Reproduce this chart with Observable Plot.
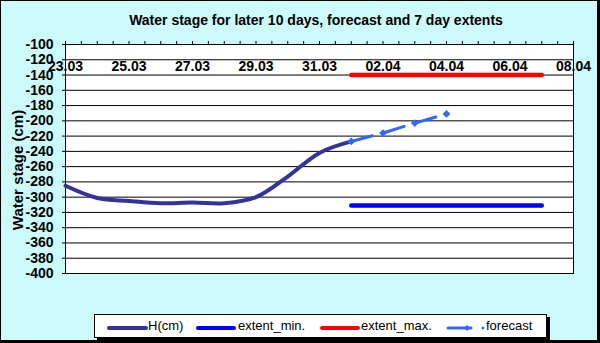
<!DOCTYPE html>
<html>
<head>
<meta charset="utf-8">
<script src="https://cdn.jsdelivr.net/npm/d3@7"></script>
<script src="https://cdn.jsdelivr.net/npm/@observablehq/plot@0.6"></script>
<style>
  html, body { margin: 0; padding: 0; background: #fff; }
  #chart { position: relative; width: 600px; height: 343px; background: #000; font-family: Arial, "Liberation Sans", sans-serif; overflow: hidden; }
  #panel { position: absolute; left: 0; top: 0; width: 596px; height: 339px; background: #cdfafa; border: 1px solid #000; }
  #plot { position: absolute; left: 0; top: 0; }
  #title { position: absolute; left: 0; width: 632px; top: 12px; line-height: 16px; text-align: center; font-weight: bold; font-size: 14px; color: #000; }
  #ylabel { position: absolute; left: 17px; top: 170px; transform: translate(-50%, -50%) rotate(-90deg); white-space: nowrap; font-weight: bold; font-size: 15px; }
  #legend { position: absolute; left: 94px; top: 314px; width: 451px; height: 22px; background: #fff; border: 1px solid #000; box-shadow: 3px 3px 0 #000; font-size: 13px; }
  .lg-text { position: absolute; top: 3px; white-space: nowrap; }
  .lg-svg { position: absolute; top: 0; left: 0; }
</style>
</head>
<body>
<div id="chart">
  <div id="panel"></div>
  <div id="plot"></div>
  <div id="title">Water stage for later 10 days, forecast and 7 day extents</div>
  <div id="ylabel">Water stage (cm)</div>
  <div id="legend"></div>
</div>
<script>
// ---- data ----
const YEAR = "2021";
const hDays = ["23.03", "24.03", "25.03", "26.03", "27.03", "28.03", "29.03", "30.03", "31.03", "01.04"];
const hValues = [-285, -301, -305, -308, -307, -308, -300, -273, -242, -227];

const forecastDays = ["01.04", "02.04", "03.04", "04.04"];
const forecastValues = [-227, -216, -203, -191];

const extentDays = ["01.04", "07.04"];
const extentMin = [-311, -311];
const extentMax = [-140, -140];

const xTickLabels = ["23.03", "25.03", "27.03", "29.03", "31.03", "02.04", "04.04", "06.04", "08.04"];
const yTicks = [-100, -120, -140, -160, -180, -200, -220, -240, -260, -280, -300, -320, -340, -360, -380, -400];

const seriesNames = ["H(cm)", "extent_min.", "extent_max.", "forecast"];
const seriesColors = ["#333399", "#0000ff", "#ff0000", "#3366ff"];

// ---- build ----
const parse = d3.utcParse("%d.%m.%Y");
const toDate = s => parse(s + "." + YEAR);
const hData = hDays.map((d, i) => ({date: toDate(d), v: hValues[i]}));
const fData = forecastDays.map((d, i) => ({date: toDate(d), v: forecastValues[i]}));
const minData = extentDays.map((d, i) => ({date: toDate(d), v: extentMin[i]}));
const maxData = extentDays.map((d, i) => ({date: toDate(d), v: extentMax[i]}));
const labelDates = xTickLabels.map(toDate);
const x0 = labelDates[0], x1 = labelDates[labelDates.length - 1];
const halfDays = d3.utcHour.every(12).range(x0, d3.utcHour.offset(x1, 1));
const fmt = d3.utcFormat("%d.%m");

const plot = Plot.plot({
  width: 600,
  height: 343,
  marginLeft: 65,
  marginRight: 27,
  marginTop: 44,
  marginBottom: 70,
  style: {background: "transparent", fontFamily: "Arial, 'Liberation Sans', sans-serif", overflow: "visible"},
  x: {type: "utc", domain: [x0, x1]},
  y: {domain: [-400, -100]},
  marks: [
    Plot.frame({fill: "white"}),
    Plot.gridY(yTicks, {stroke: "black", strokeOpacity: 1, strokeWidth: 1}),
    Plot.frame({stroke: "black", strokeWidth: 1}),
    Plot.axisY(yTicks, {tickSize: 3, tickPadding: 9, fontSize: 14, fontWeight: "bold", fill: "black", stroke: "black", strokeWidth: 1, label: null, tickFormat: d => String(d).replace("−", "-")}),
    Plot.axisX(halfDays, {anchor: "top", tickSize: 4, tickFormat: () => "", stroke: "black", label: null}),
    Plot.text(labelDates, {x: d => d, frameAnchor: "top", dy: 17, text: d => fmt(d), fontSize: 14, fontWeight: "bold", fill: "black"}),
    Plot.line(maxData, {x: "date", y: "v", stroke: seriesColors[2], strokeWidth: 4.5, strokeLinecap: "round"}),
    Plot.line(minData, {x: "date", y: "v", stroke: seriesColors[1], strokeWidth: 4.5, strokeLinecap: "round"}),
    Plot.line(hData, {x: "date", y: "v", stroke: seriesColors[0], strokeWidth: 4, curve: "catmull-rom"}),
    Plot.line(fData, {x: "date", y: "v", stroke: seriesColors[3], strokeWidth: 3, strokeDasharray: "22,11"}),
    Plot.dot(fData, {x: "date", y: "v", symbol: "diamond2", r: 3.5, fill: seriesColors[3], stroke: "none"})
  ]
});
document.getElementById("plot").appendChild(plot);

// ---- legend ----
const legend = document.getElementById("legend");
const lgItems = [
  {line: [14, 51], text: 53},
  {line: [103, 139], text: 143},
  {line: [227, 263], text: 266},
  {line: [353, 376], text: 391, dot: 372, extra: 388}
];
const ns = "http://www.w3.org/2000/svg";
const svg = document.createElementNS(ns, "svg");
svg.setAttribute("width", 451);
svg.setAttribute("height", 22);
svg.setAttribute("class", "lg-svg");
lgItems.forEach((it, i) => {
  const l = document.createElementNS(ns, "line");
  l.setAttribute("x1", it.line[0]); l.setAttribute("x2", it.line[1]);
  l.setAttribute("y1", 13); l.setAttribute("y2", 13);
  l.setAttribute("stroke", seriesColors[i]);
  l.setAttribute("stroke-width", i === 3 ? 3 : 4);
  l.setAttribute("stroke-linecap", "round");
  svg.appendChild(l);
  if (it.dot) {
    const p = document.createElementNS(ns, "path");
    p.setAttribute("d", d3.symbol(d3.symbolDiamond2, 22)());
    p.setAttribute("transform", `translate(${it.dot},13)`);
    p.setAttribute("fill", seriesColors[i]);
    svg.appendChild(p);
    const c = document.createElementNS(ns, "circle");
    c.setAttribute("cx", it.extra); c.setAttribute("cy", 13); c.setAttribute("r", 1.5);
    c.setAttribute("fill", seriesColors[i]);
    svg.appendChild(c);
  }
  const t = document.createElement("div");
  t.className = "lg-text";
  t.style.left = it.text + "px";
  t.textContent = seriesNames[i];
  legend.appendChild(t);
});
legend.appendChild(svg);
</script>
</body>
</html>
